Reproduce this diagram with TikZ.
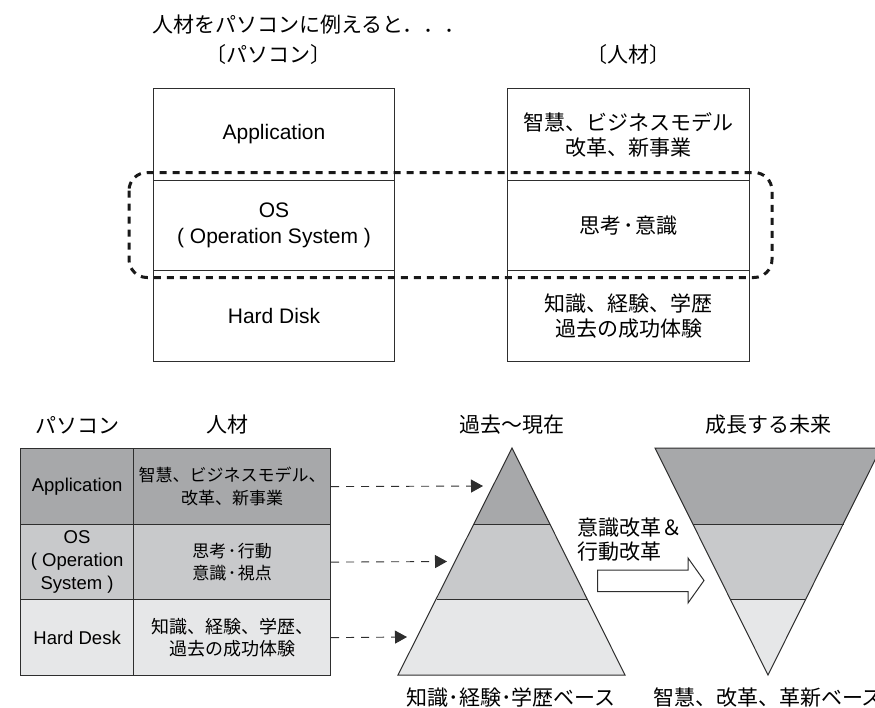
\documentclass[tikz,border=0pt]{standalone}
\usepackage{fontspec}
\setmainfont{Liberation Sans}
\newfontfamily\jp{Noto Sans CJK JP}
\usetikzlibrary{arrows.meta}
\definecolor{dk}{HTML}{A7A8AA}
\definecolor{md}{HTML}{C8C9CB}
\definecolor{lt}{HTML}{E6E7E8}
\definecolor{ln}{HTML}{2E2E2E}
\newcommand{\nd}{\hspace{1.5pt}･\hspace{1.5pt}}
\begin{document}
\begin{tikzpicture}[x=1pt,y=-1pt,
  lat21/.style={font=\fontsize{21pt}{26pt}\selectfont},
  jp21/.style={font=\jp\fontsize{21pt}{25pt}\selectfont},
  topcell/.style={draw=ln, line width=1.1pt, inner sep=0pt, anchor=north west, align=center, minimum width=241.5pt},
  tcell/.style={draw=ln, line width=1.2pt, inner sep=0pt, anchor=north west, align=center},
  tlat/.style={font=\fontsize{18.5pt}{23pt}\selectfont},
  tjp/.style={font=\jp\fontsize{17pt}{22.5pt}\selectfont},
  tjpb/.style={font=\jp\fontsize{18pt}{22.5pt}\selectfont},
  lbl/.style={inner sep=0pt, font=\jp\fontsize{21pt}{24pt}\selectfont},
  conn/.style={draw=ln, line width=0.9pt, dash pattern=on 8pt off 7pt, -{Triangle[length=12pt,width=13pt]}},
  layer/.style={draw=ln, line width=1pt}
]
\useasboundingbox (0,0) rectangle (875,707);

% ---------- top part ----------
\node[lbl, anchor=west] (title) at (152,25) {人材をパソコンに例えると．．．};
\node[lbl] (hl) at (268.5,55) {〔パソコン〕};
\node[lbl] (hr) at (628,55) {〔人材〕};

\node[topcell, lat21, minimum height=92pt] (pa) at (152.7,88) {Application};
\node[topcell, lat21, minimum height=90pt] (po) at (152.7,180) {OS\\( Operation System )};
\node[topcell, lat21, minimum height=91pt] (ph) at (152.7,270) {Hard Disk};

\node[topcell, jp21, minimum height=92pt] (ja) at (507.3,88) {智慧、ビジネスモデル\\改革、新事業};
\node[topcell, jp21, minimum height=90pt] (jo) at (507.3,180) {思考\nd 意識};
\node[topcell, jp21, minimum height=91pt] (jh) at (507.3,270) {知識、経験、学歴\\過去の成功体験};

\draw[line width=3pt, dash pattern=on 7pt off 6pt, rounded corners=18pt, draw=black!90]
  (129,172.5) rectangle (772,277.5);

% ---------- bottom table ----------
\node[lbl] (h1) at (77,425) {パソコン};
\node[lbl] (h2) at (227,425) {人材};

\node[tcell, tlat, fill=dk, minimum width=113pt, minimum height=76pt] (ta) at (20,448) {Application};
\node[tcell, tjp, fill=dk, minimum width=197pt, minimum height=76pt] (tb) at (133,448) {智慧、ビジネスモデル、\\改革、新事業};
\node[tcell, tlat, fill=md, minimum width=113pt, minimum height=75pt] (tc) at (20,524) {OS\\( Operation\\System )};
\node[tcell, tjp, fill=md, minimum width=197pt, minimum height=75pt] (td) at (133,524) {思考\nd 行動\\意識\nd 視点};
\node[tcell, tlat, fill=lt, minimum width=113pt, minimum height=76pt] (te) at (20,599) {Hard Desk};
\node[tcell, tjpb, fill=lt, minimum width=197pt, minimum height=76pt] (tf) at (133,599) {知識、経験、学歴、\\過去の成功体験};

% ---------- pyramid (past) ----------
\coordinate (A) at (512,448);
\coordinate (L1) at (474,524); \coordinate (R1) at (550,524);
\coordinate (L2) at (436.5,599); \coordinate (R2) at (587.5,599);
\coordinate (BL) at (398,675); \coordinate (BR) at (625,675);
\fill[dk] (A) -- (R1) -- (L1) -- cycle;
\fill[md] (L1) -- (R1) -- (R2) -- (L2) -- cycle;
\fill[lt] (L2) -- (R2) -- (BR) -- (BL) -- cycle;
\draw[layer] (A) -- (BR) -- (BL) -- cycle;
\draw[layer] (L1) -- (R1);
\draw[layer] (L2) -- (R2);

% ---------- inverted pyramid (future) ----------
\coordinate (TL) at (655,448); \coordinate (TR) at (881,448);
\coordinate (M1) at (692.5,524); \coordinate (N1) at (843.5,524);
\coordinate (M2) at (730,599); \coordinate (N2) at (806,599);
\coordinate (V) at (768,675);
\fill[dk] (TL) -- (TR) -- (N1) -- (M1) -- cycle;
\fill[md] (M1) -- (N1) -- (N2) -- (M2) -- cycle;
\fill[lt] (M2) -- (N2) -- (V) -- cycle;
\draw[layer] (TL) -- (TR) -- (V) -- cycle;
\draw[layer] (M1) -- (N1);
\draw[layer] (M2) -- (N2);

% ---------- labels ----------
\node[lbl] (past) at (512,425) {過去～現在};
\node[lbl] (fut) at (768,425) {成長する未来};
\node[lbl] (pastb) at (511,698) {知識･経験･学歴ベース};
\node[lbl] (futb) at (768,698) {智慧、改革、革新ベース};
\node[lbl, anchor=west, align=left] (chg) at (577,540) {意識改革＆\\行動改革};

% ---------- hollow arrow ----------
\draw[draw=ln, line width=1pt, fill=white]
  (597.7,570) -- (688,570) -- (688,558) -- (704,580.5) -- (688,603) -- (688,591.7) -- (597.7,591.7) -- cycle;

% ---------- dashed connectors ----------
\coordinate (p1) at (483,486);
\coordinate (p2) at (447,561.5);
\coordinate (p3) at (407,637);
\draw[conn] (tb.east) -- (p1);
\draw[conn] (td.east) -- (p2);
\draw[conn] (tf.east) -- (p3);
\end{tikzpicture}
\end{document}
